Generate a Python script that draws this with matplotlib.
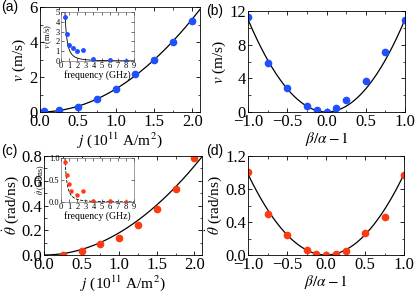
import numpy as np
import matplotlib
matplotlib.use('Agg')
import matplotlib.pyplot as plt
from matplotlib.ticker import FormatStrFormatter, FuncFormatter, AutoMinorLocator

plt.rcParams['font.family'] = ['Liberation Serif', 'DejaVu Serif']
plt.rcParams['mathtext.fontset'] = 'stix'
plt.rcParams['xtick.direction'] = 'in'
plt.rcParams['ytick.direction'] = 'in'
plt.rcParams['xtick.top'] = True
plt.rcParams['ytick.right'] = True

BLUE = '#1f4fff'
RED = '#ff3a10'

# (a) velocity vs current density
j_a = [0.05, 0.25, 0.5, 0.75, 1.0, 1.25, 1.5, 1.75, 2.0]
v_a = [0.05, 0.1, 0.3, 0.75, 1.3, 2.2, 3.0, 4.0, 5.2]
# (a) inset: velocity vs frequency
f_a = [0.5, 0.75, 1.0, 1.5, 2.0, 2.75, 4.0, 6.0, 8.0]
vf_a = [4.5, 2.8, 1.65, 1.35, 1.05, 1.15, 0.25, 0.15, 0.05]

# (b) velocity vs beta/alpha - 1
ba = [-1.0, -0.75, -0.5, -0.25, -0.125, 0.0, 0.125, 0.25, 0.5, 0.75, 1.0]
v_b = [11.3, 5.8, 2.9, 0.7, 0.2, 0.05, 0.5, 1.4, 3.7, 7.1, 10.9]

# (c) angular velocity vs current density
j_c = [0.25, 0.5, 0.75, 1.0, 1.25, 1.5, 1.75, 2.0]
th_c = [0.0, 0.03, 0.09, 0.14, 0.24, 0.37, 0.53, 0.78]
# (c) inset
f_c = [0.5, 0.75, 1.0, 1.25, 2.0, 2.75, 4.0, 6.0, 8.0]
thf_c = [0.92, 0.62, 0.4, 0.26, 0.15, 0.25, 0.02, 0.02, 0.0]

# (d) angular velocity vs beta/alpha - 1
th_d = [1.01, 0.5, 0.24, 0.06, 0.01, 0.0, 0.01, 0.05, 0.27, 0.46, 0.97]

# fit coefficients
k_a, k_ai, k_b, k_c, k_ci, k_d = 1.33, 1.2, 11.0, 0.18, 0.24, 0.98

fig = plt.figure(figsize=(4.15, 2.94), dpi=100)
W, H = 415, 294


def box(l, t, r, b):
    return [l / W, 1 - b / H, (r - l) / W, (b - t) / H]


fs = 12   # tick labels
fl = 11   # axis labels
ms = 4.5
ax_a = fig.add_axes(box(40, 7, 200, 112))
ax_b = fig.add_axes(box(248, 11, 405, 112))
ax_c = fig.add_axes(box(44, 156, 202, 255))
ax_d = fig.add_axes(box(248, 156, 404, 255))
in_a = fig.add_axes(box(61, 12, 134, 61))
in_c = fig.add_axes(box(61, 158, 134, 202))

jx = np.linspace(0, 2.1, 200)
bx = np.linspace(-1, 1, 200)
fx = np.linspace(0.49, 9, 300)
th_lab = r'$\dot{\theta}$ (rad/ns)'

# (a)
ax_a.plot(jx, k_a * jx ** 2, color='k', lw=0.9)
ax_a.plot(j_a, v_a, 'o', color=BLUE, ms=ms)
ax_a.set_xlim(0, 2.1)
ax_a.set_ylim(0, 6)
ax_a.set_xticks([0, 0.5, 1.0, 1.5, 2.0])
ax_a.set_yticks([0, 2, 4, 6])
ax_a.set_xlabel(r'$j$ (10$^{11}$ A/m$^2$)', fontsize=fl, labelpad=0)
ax_a.set_ylabel(r'$v$ (m/s)', fontsize=fl, labelpad=1)

in_a.plot(fx, k_ai / fx ** 2, color='k', lw=0.6)
in_a.plot(f_a, vf_a, 'o', color=BLUE, ms=2.5)
in_a.set_xlim(0, 9)
in_a.set_ylim(0, 5)
in_a.set_xticks(range(10))
in_a.set_yticks(range(6))
in_a.set_xlabel('frequency (GHz)', fontsize=7, labelpad=0)
in_a.set_ylabel(r'$v$ (m/s)', fontsize=6, labelpad=1)

# (b)
ax_b.plot(bx, k_b * bx ** 2, color='k', lw=0.9)
ax_b.plot(ba, v_b, 'o', color=BLUE, ms=ms)
ax_b.set_xlim(-1, 1)
ax_b.set_ylim(0, 12)
ax_b.set_xticks([-1.0, -0.5, 0.0, 0.5, 1.0])
ax_b.set_yticks([0, 4, 8, 12])
ax_b.set_xlabel(r'$\beta/\alpha-1$', fontsize=fl, labelpad=0)
ax_b.set_ylabel(r'$v$ (m/s)', fontsize=fl, labelpad=1)

# (c)
ax_c.plot(jx, k_c * jx ** 2, color='k', lw=0.9)
ax_c.plot(j_c, th_c, 'o', color=RED, ms=ms)
ax_c.set_xlim(0, 2.1)
ax_c.set_ylim(0, 0.8)
ax_c.set_xticks([0, 0.5, 1.0, 1.5, 2.0])
ax_c.set_yticks([0, 0.2, 0.4, 0.6, 0.8])
ax_c.set_xlabel(r'$j$ (10$^{11}$ A/m$^2$)', fontsize=fl, labelpad=0)
ax_c.set_ylabel(th_lab, fontsize=fl, labelpad=0)

in_c.plot(fx, k_ci / fx ** 2, color='k', lw=0.6, ls='--')
in_c.plot(f_c, thf_c, 'o', color=RED, ms=2.2)
in_c.set_xlim(0, 9)
in_c.set_ylim(0, 1.0)
in_c.set_xticks(range(10))
in_c.set_yticks([0, 0.5, 1.0])
in_c.set_xlabel('frequency (GHz)', fontsize=7, labelpad=0)
in_c.set_ylabel(th_lab, fontsize=5.5, labelpad=1)

# (d)
ax_d.plot(bx, k_d * bx ** 2, color='k', lw=0.9)
ax_d.plot(ba, th_d, 'o', color=RED, ms=ms)
ax_d.set_xlim(-1, 1)
ax_d.set_ylim(0, 1.2)
ax_d.set_xticks([-1.0, -0.5, 0.0, 0.5, 1.0])
ax_d.set_yticks([0, 0.4, 0.8, 1.2])
ax_d.set_xlabel(r'$\beta/\alpha-1$', fontsize=fl, labelpad=0)
ax_d.set_ylabel(th_lab, fontsize=fl, labelpad=1)

minus = FuncFormatter(lambda x, p: ('%.1f' % x).replace('-', '\u2212'))
for ax in (ax_a, ax_b, ax_c, ax_d):
    ax.tick_params(which='major', labelsize=fs, length=3, width=0.6, pad=1.5)
    ax.tick_params(which='minor', length=1.8, width=0.5)
    ax.xaxis.set_minor_locator(AutoMinorLocator(2))
    ax.yaxis.set_minor_locator(AutoMinorLocator(2))
    ax.xaxis.set_major_formatter(minus)
    for s in ax.spines.values():
        s.set_linewidth(0.6)
ax_a.yaxis.set_major_formatter(FormatStrFormatter('%d'))
ax_b.yaxis.set_major_formatter(FormatStrFormatter('%d'))
for ax in (ax_c, ax_d):
    ax.yaxis.set_major_formatter(FormatStrFormatter('%.1f'))

for ax in (in_a, in_c):
    ax.tick_params(labelsize=6, length=2, width=0.4, pad=1)
    for s in ax.spines.values():
        s.set_linewidth(0.4)
        s.set_color('#555555')
in_c.yaxis.set_major_formatter(FormatStrFormatter('%.1f'))

for lab, x, y in [('(a)', 1, 7), ('(b)', 206, 11), ('(c)', 1, 151), ('(d)', 206, 151)]:
    fig.text(x / W, 1 - y / H, lab, fontsize=10, family='Liberation Sans', va='center', ha='left')

fig.savefig('out.png', dpi=100)
